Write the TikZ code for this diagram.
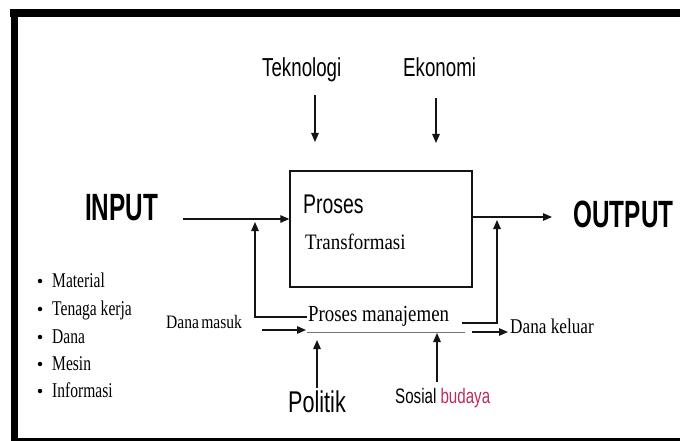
\documentclass[tikz,border=0pt]{standalone}
\usepackage{fontspec}
\setmainfont{Liberation Serif}
\newfontfamily\condsans[FakeStretch=0.72]{Liberation Sans}
\newfontfamily\headsans[FakeStretch=0.64]{Liberation Sans}
\newfontfamily\condserif[FakeStretch=0.82]{Liberation Serif}
\newfontfamily\listserif[FakeStretch=0.74]{Liberation Serif}
\usetikzlibrary{arrows.meta}
\definecolor{budaya}{RGB}{185,45,95}
\definecolor{inkline}{RGB}{20,20,20}

\begin{document}
\begin{tikzpicture}[x=1pt,y=-1pt,
  arr/.style={draw=inkline,line width=1.3pt,-{Triangle[length=9pt,width=7.5pt]}},
  thinrule/.style={draw=black!55,line width=0.8pt},
  lbl/.style={inner sep=0pt,anchor=base west},
  factor/.style={lbl,font=\condsans\fontsize{26}{30}\selectfont},
  heading/.style={inner sep=0pt,font=\headsans\bfseries\fontsize{38}{42}\selectfont},
  serifsmall/.style={lbl,font=\listserif\fontsize{21}{24}\selectfont},
  dot/.style={circle,fill=black,inner sep=0pt,minimum size=4.5pt}]

\useasboundingbox (0,0) rectangle (680,441);
\fill[white] (0,0) rectangle (680,441);

% outer frame: heavy top and left rules, thinner bottom rule
\fill[black] (10,9) rectangle (680,17);
\fill[black] (11,9) rectangle (18,441);
\fill[black] (11,438) rectangle (680,441);

% transformation box
\node[draw=inkline,line width=1.4pt,minimum width=182pt,minimum height=116pt,inner sep=0pt] (box) at (381,229) {};
\node[lbl,font=\condsans\fontsize{27}{30}\selectfont] (proses) at (303,213) {Proses};
\node[lbl,font=\condserif\fontsize{22}{26}\selectfont,xscale=1.05] (transf) at (305,249) {Transformasi};

% environment factors
\node[factor] (tek) at (262,77) {Teknologi};
\node[factor] (eko) at (403,77) {Ekonomi};
\node[lbl,font=\condsans\fontsize{30}{34}\selectfont] (pol) at (288,412) {Politik};
\node[lbl,font=\condsans\fontsize{21}{24}\selectfont] (sos) at (395,403) {Sosial \textcolor{budaya}{budaya}};

% input / output headings
\node[heading] (input) at (121.5,208) {INPUT};
\node[heading] (output) at (623.5,214) {OUTPUT};

% management process
\node[lbl,font=\condserif\fontsize{23}{26}\selectfont] (manaj) at (308,321) {Proses manajemen};
\node[lbl,font=\condserif\fontsize{19}{22}\selectfont] (masuk) at (166,328) {Dana\hspace{0.12em}masuk};
\node[lbl,font=\condserif\fontsize{21}{24}\selectfont] (keluar) at (510,333) {Dana keluar};

% resource list
\foreach \name/\txt/\yy in {m1/Material/287, m2/Tenaga kerja/315, m3/Dana/343, m4/Mesin/370, m5/Informasi/397}{
  \node[dot] (\name dot) at (40,\yy-6) {};
  \node[serifsmall] (\name) at (52,\yy) {\txt};
}

% connector end points
\coordinate (inStart) at (183,219);
\coordinate (outStart) at (472,217);
\coordinate (outEnd) at (552,217);
\coordinate (tekStart) at (315,95);
\coordinate (tekEnd) at (315,142);
\coordinate (ekoStart) at (436,98);
\coordinate (ekoEnd) at (436,143);
\coordinate (fbLeftStart) at (307,317);
\coordinate (fbLeftCorner) at (255,317);
\coordinate (fbLeftEnd) at (255,222);
\coordinate (masukStart) at (262,330);
\coordinate (masukEnd) at (306,330);
\coordinate (ruleStart) at (307,332);
\coordinate (ruleEnd) at (465,332);
\coordinate (fbRightStart) at (462,323);
\coordinate (fbRightCorner) at (497,323);
\coordinate (fbRightEnd) at (497,220);
\coordinate (keluarStart) at (472,332);
\coordinate (keluarEnd) at (508,332);
\coordinate (polStart) at (317,388);
\coordinate (polEnd) at (317,340);
\coordinate (sosStart) at (437,382);
\coordinate (sosEnd) at (437,333);

% flows
\draw[arr] (inStart) -- (box.west |- inStart);
\draw[arr] (outStart) -- (outEnd);
\draw[arr] (tekStart) -- (tekEnd);
\draw[arr] (ekoStart) -- (ekoEnd);
\draw[arr] (fbLeftStart) -- (fbLeftCorner) -- (fbLeftEnd);
\draw[arr] (masukStart) -- (masukEnd);
\draw[thinrule] (ruleStart) -- (ruleEnd);
\draw[arr] (fbRightStart) -- (fbRightCorner) -- (fbRightEnd);
\draw[arr] (keluarStart) -- (keluarEnd);
\draw[arr] (polStart) -- (polEnd);
\draw[arr] (sosStart) -- (sosEnd);
\end{tikzpicture}
\end{document}
